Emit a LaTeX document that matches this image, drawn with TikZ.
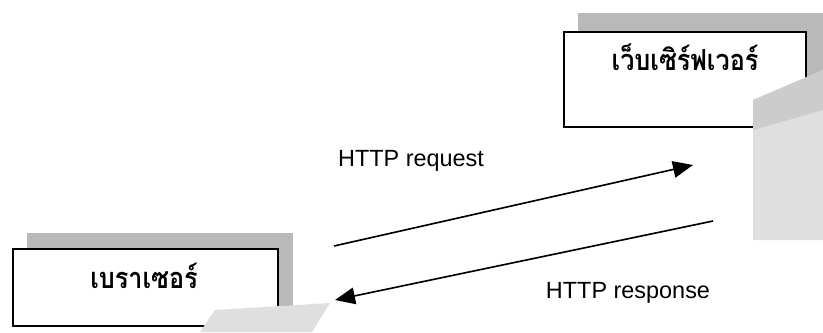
\documentclass[tikz,border=0pt]{standalone}
\usepackage{fontspec}
\setmainfont{Liberation Sans}
\newfontfamily\thaifont[Script=Thai]{Loma}
\usetikzlibrary{arrows.meta}
\newcommand{\tallthai}[1]{\scalebox{1}[1.15]{#1}}
\tikzset{
  box/.style={draw,line width=1.6pt,fill=white,inner sep=0pt},
  shade1/.style={fill=gray!55,draw=none},
  shade2/.style={fill=gray!25,draw=none},
  msg/.style={line width=1.4pt,-{Triangle[length=0.6cm,width=0.5cm]}},
  lbl/.style={font=\fontsize{20}{24}\selectfont,inner sep=0pt},
  thai/.style={font=\thaifont\bfseries\fontsize{21.5}{26}\selectfont,inner sep=0pt}
}
\begin{document}
\begin{tikzpicture}[x=0.03cm,y=-0.03cm]
\useasboundingbox (0,0) rectangle (823,332);
            % Shadows
\fill[shade1] (578,13) rectangle (823,110);
\fill[shade1] (27,233) rectangle (293,317);
            % Boxes
\node[box,minimum width=7.26cm,minimum height=2.85cm,anchor=north west] (server) at (563,31) {};
\node[box,minimum width=7.95cm,minimum height=2.31cm,anchor=north west] (browser) at (12,248) {};
\fill[shade2] (753,100) -- (823,70) -- (823,240) -- (753,240) -- cycle;
\fill[shade1,fill=gray!40] (753,100) -- (823,70) -- (823,110) -- (753,130) -- cycle;
\fill[shade2] (200,332) -- (215,310) -- (330,303) -- (312,332) -- cycle;
            % Texts
\node[thai] (servertext) at (685,57) {\tallthai{เว็บเซิร์ฟเวอร์}};
\node[thai] (browsertext) at (144,276) {\tallthai{เบราเซอร์}};
\node[lbl] (req) at (411,161) {HTTP request};
\node[lbl] (resp) at (628,293) {HTTP response};
            % Arrows
\coordinate (reqA) at (334,246);
\coordinate (reqB) at (693,165);
\coordinate (respA) at (713,221);
\coordinate (respB) at (335,300);
\draw[msg] (reqA) -- (reqB);
\draw[msg] (respA) -- (respB);
\end{tikzpicture}
\end{document}
